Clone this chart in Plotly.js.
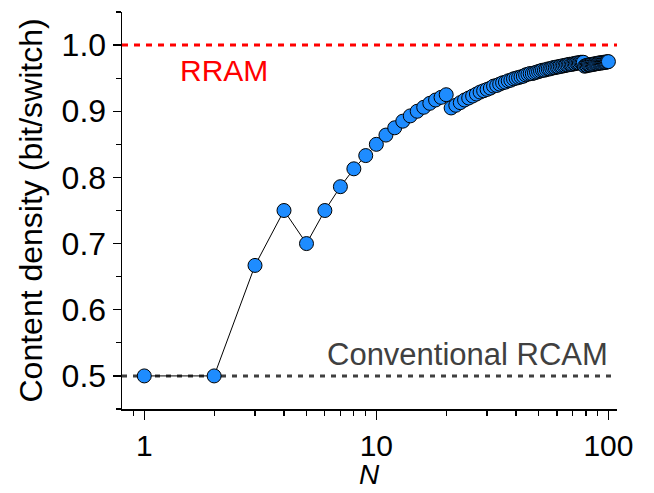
<!DOCTYPE html>
<html>
<head>
<meta charset="utf-8">
<script src="https://cdn.plot.ly/plotly-3.0.1.min.js"></script>
<style>html,body{margin:0;padding:0;background:#fff;}#chart{width:654px;height:493px;}</style>
</head>
<body>
<div id="chart"></div>
<script>
var N = [1,2,3,4,5,6,7,8,9,10,11,12,13,14,15,16,17,18,19,20,
  21,22,23,24,25,26,27,28,29,30,31,32,33,34,35,36,37,38,39,40,
  41,42,43,44,45,46,47,48,49,50,51,52,53,54,55,56,57,58,59,60,
  61,62,63,64,65,66,67,68,69,70,71,72,73,74,75,76,77,78,79,80,
  81,82,83,84,85,86,87,88,89,90,91,92,93,94,95,96,97,98,99,100];
var density = [0.5,0.5,0.667,0.75,0.7,0.75,0.786,0.813,0.833,0.85,
  0.864,0.875,0.885,0.893,0.9,0.906,0.912,0.917,0.921,0.925,
  0.905,0.909,0.913,0.917,0.92,0.923,0.926,0.929,0.931,0.933,
  0.935,0.938,0.939,0.941,0.943,0.944,0.946,0.947,0.949,0.95,
  0.951,0.952,0.953,0.955,0.956,0.957,0.957,0.958,0.959,0.96,
  0.961,0.962,0.962,0.963,0.964,0.964,0.965,0.966,0.966,0.967,
  0.967,0.968,0.968,0.969,0.969,0.97,0.97,0.971,0.971,0.971,
  0.972,0.972,0.973,0.973,0.973,0.974,0.974,0.974,0.968,0.969,
  0.969,0.97,0.97,0.97,0.971,0.971,0.971,0.972,0.972,0.972,
  0.973,0.973,0.973,0.973,0.974,0.974,0.974,0.974,0.975,0.975];
var rramLevel = 1.0;
var rcamLevel = 0.5;
var xTickVals = [1,10,100];
var xTickText = ['1','10','100'];
var xMinorVals = [0.8,0.9,2,3,4,5,6,7,8,9,20,30,40,50,60,70,80,90];

var font = 'Liberation Sans, Arial, sans-serif';
var trace = {
  x: N, y: density, type: 'scatter', mode: 'lines+markers',
  line: {color: '#000', width: 1},
  marker: {size: 14, color: '#1E8CFF', line: {color: '#000', width: 1}},
  hoverinfo: 'skip', showlegend: false
};
var layout = {
  width: 654, height: 493,
  margin: {l: 122, r: 37, t: 12, b: 84},
  paper_bgcolor: '#fff', plot_bgcolor: '#fff',
  font: {family: font, size: 30, color: '#000'},
  showlegend: false,
  xaxis: {
    type: 'log', range: [-0.096, 2.037],
    tickmode: 'array', tickvals: xTickVals, ticktext: xTickText,
    ticks: 'outside', ticklen: 9, tickwidth: 1.2, tickcolor: '#000',
    minor: {tickmode: 'array', tickvals: xMinorVals, ticks: 'outside', ticklen: 5, tickwidth: 1.2, tickcolor: '#000', showgrid: false},
    showline: true, linecolor: '#000', linewidth: 1.5, mirror: false,
    showgrid: false, zeroline: false,
    tickfont: {family: font, size: 30, color: '#000'}
  },
  yaxis: {
    range: [0.45, 1.05], tick0: 0.5, dtick: 0.1, tickformat: '.1f',
    ticks: 'outside', ticklen: 8, tickwidth: 1.2, tickcolor: '#000',
    minor: {dtick: 0.05, tick0: 0.45, ticks: 'outside', ticklen: 5, tickwidth: 1.2, tickcolor: '#000', showgrid: false},
    showline: true, linecolor: '#000', linewidth: 1.5, mirror: false,
    showgrid: false, zeroline: false,
    tickfont: {family: font, size: 32, color: '#000'}
  },
  shapes: [
    {type: 'line', xref: 'paper', x0: 0, x1: 1, yref: 'y', y0: rramLevel, y1: rramLevel,
     line: {color: '#FF0000', width: 3, dash: '6px,6px'}, layer: 'below'},
    {type: 'line', xref: 'paper', x0: 0, x1: 1, yref: 'y', y0: rcamLevel, y1: rcamLevel,
     line: {color: '#404040', width: 3, dash: '5px,6px'}, layer: 'below'}
  ],
  annotations: [
    {text: 'RRAM', xref: 'x', yref: 'y', x: 0.145, y: 0.962, xanchor: 'left', yanchor: 'middle',
     showarrow: false, font: {family: font, size: 30, color: '#FF0000'}},
    {text: 'Conventional RCAM', xref: 'x', yref: 'y', x: 2.007, y: 0.533, xanchor: 'right', yanchor: 'middle',
     showarrow: false, font: {family: font, size: 31, color: '#404040'}},
    {text: '<i>N</i>', xref: 'paper', yref: 'paper', x: 0.5, y: 0, xanchor: 'center', yanchor: 'top',
     yshift: -49, borderpad: 0, showarrow: false, font: {family: font, size: 28, color: '#000'}},
    {text: 'Content density (bit/switch)', xref: 'paper', yref: 'paper', x: 0, y: 0.5, textangle: -90,
     xanchor: 'center', yanchor: 'middle', xshift: -92, showarrow: false,
     font: {family: font, size: 32, color: '#000'}}
  ]
};
Plotly.newPlot('chart', [trace], layout, {staticPlot: true, displayModeBar: false});
</script>
</body>
</html>
